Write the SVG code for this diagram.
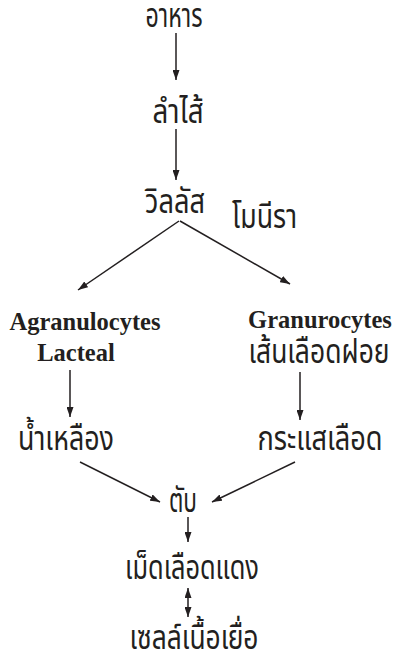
<svg xmlns="http://www.w3.org/2000/svg" width="393" height="655" viewBox="0 0 393 655">
<defs>
<marker id="ah" markerUnits="userSpaceOnUse" markerWidth="10" markerHeight="7" refX="10" refY="3.5" orient="auto-start-reverse">
<path d="M0,0 L10,3.5 L0,7 z" fill="#231f20"/>
</marker>
<style>
.th{font-family:"Noto Sans Thai","Noto Sans Thai Looped","Loma","Garuda","Norasi","Noto Sans",sans-serif;font-size:33px;fill:#231f20;text-anchor:middle}
.en{font-family:"Liberation Serif","Times New Roman",serif;font-weight:bold;font-size:24.5px;fill:#231f20;text-anchor:middle}
.c{stroke:#231f20;stroke-width:1.5;fill:none;marker-end:url(#ah)}
</style>
</defs>
<rect width="393" height="655" fill="#ffffff"/>
<g id="n-food"><text class="th" x="174" y="27" textLength="57" lengthAdjust="spacingAndGlyphs">อาหาร</text></g>
<g id="n-intestine"><text class="th" x="178" y="123" textLength="51" lengthAdjust="spacingAndGlyphs">ลำไส้</text></g>
<g id="n-villus"><text class="th" x="175" y="213" textLength="60" lengthAdjust="spacingAndGlyphs">วิลลัส</text></g>
<g id="n-monira"><text class="th" x="264.5" y="228" textLength="65" lengthAdjust="spacingAndGlyphs">โมนีรา</text></g>
<g id="n-agran"><text class="en" x="85" y="330">Agranulocytes</text><text class="en" x="76" y="361">Lacteal</text></g>
<g id="n-gran"><text class="en" x="320" y="328">Granurocytes</text><text class="th" x="319" y="363" textLength="141" lengthAdjust="spacingAndGlyphs">เส้นเลือดฝอย</text></g>
<g id="n-lymph"><text class="th" x="66" y="450" textLength="96" lengthAdjust="spacingAndGlyphs">น้ำเหลือง</text></g>
<g id="n-blood"><text class="th" x="320" y="450" textLength="125" lengthAdjust="spacingAndGlyphs">กระแสเลือด</text></g>
<g id="n-liver"><text class="th" x="183" y="512" textLength="28" lengthAdjust="spacingAndGlyphs">ตับ</text></g>
<g id="n-rbc"><text class="th" x="192" y="579" textLength="134" lengthAdjust="spacingAndGlyphs">เม็ดเลือดแดง</text></g>
<g id="n-tissue"><text class="th" x="194" y="649" textLength="129" lengthAdjust="spacingAndGlyphs">เซลล์เนื้อเยื่อ</text></g>
<g id="connectors">
<line class="c" x1="176" y1="33" x2="176" y2="80"/>
<line class="c" x1="176" y1="129" x2="176" y2="180"/>
<line class="c" x1="179" y1="221" x2="78" y2="290"/>
<line class="c" x1="180" y1="221" x2="290" y2="284"/>
<line class="c" x1="70" y1="370" x2="70" y2="417"/>
<line class="c" x1="300" y1="372" x2="300" y2="420"/>
<line class="c" x1="80" y1="462" x2="160" y2="502"/>
<line class="c" x1="295" y1="462" x2="212" y2="502"/>
<line class="c" x1="188" y1="517" x2="188" y2="542"/>
<line class="c" x1="188" y1="588" x2="188" y2="617" style="marker-start:url(#ah)"/>
</g>
</svg>
